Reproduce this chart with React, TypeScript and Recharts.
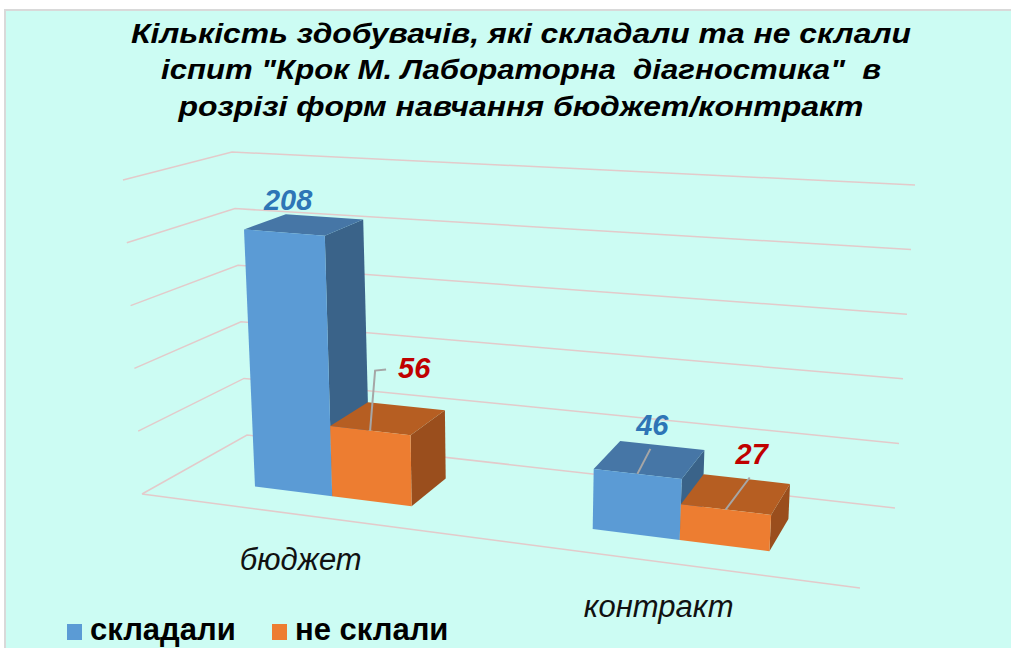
import React from "react"
import { Bar, BarChart, CartesianGrid, XAxis, YAxis } from "recharts"

const CATEGORIES = ["бюджет", "контракт"]
const PASSED = [208, 46]
const FAILED = [56, 27]
const SERIES = ["складали", "не склали"]
const Y_TICKS = [0, 50, 100, 150, 200, 250]
const TITLE_LINES = [
  "Кількість здобувачів, які складали та не склали",
  "іспит \"Крок М. Лабораторна  діагностика\"  в",
  "розрізі форм навчання бюджет/контракт",
]

const data = CATEGORIES.map((name, i) => ({
  name,
  passed: PASSED[i],
  failed: FAILED[i],
}))

// layout of the (flat) recharts plot, used to map back into the 3d box
const CHART_W = 1011
const CHART_H = 648
const XAXIS_H = 40
const PLOT_LEFT = 0
const PLOT_W = CHART_W
const PLOT_H = CHART_H - XAXIS_H
const PLOT_BOTTOM = PLOT_H

type Pt = [number, number]

// screen corners of the 3d box, indexed [x][value][depth]
const BOX: Pt[][][] = [
  [
    [[142, 494], [247, 435]],
    [[123, 180], [232, 152]],
  ],
  [
    [[860, 588], [895, 508]],
    [[882, 238], [915, 185]],
  ],
]
const PERSP = 0.886
const Z_FRONT = 0.3
const Z_BACK = 0.72

const FONT = "'Liberation Sans', Arial, sans-serif"
const BG = "#ccfcf3"
const GRID = "#e3caca"
const LEADER = "#a6a6a6"

const COLORS = [
  { front: "#5b9bd5", top: "#4676a6", side: "#3a6389", label: "#2e75b6" },
  { front: "#ed7d31", top: "#b65e22", side: "#9a4e1d", label: "#c00000" },
]

// label centre relative to the front top edge of each bar, plus leader points
const LABEL_LAYOUT = [
  [
    { dx: 4, dy: -33, lead: [] as Pt[] },
    { dx: 15, dy: -49, lead: [[-2, 24]] as Pt[] },
  ],
  [
    { dx: 44, dy: -63, lead: [[-39, 3], [-28, 2]] as Pt[] },
    { dx: 26, dy: -56, lead: [[-2, 24]] as Pt[] },
  ],
]

function project(u: number, t: number, z: number): Pt {
  const w = (u * PERSP) / (1 + (PERSP - 1) * u)
  let x = 0
  let y = 0
  for (let i = 0; i < 2; i++)
    for (let j = 0; j < 2; j++)
      for (let k = 0; k < 2; k++) {
        const k1 = (i ? w : 1 - w) * (j ? t : 1 - t) * (k ? z : 1 - z)
        x += k1 * BOX[i][j][k][0]
        y += k1 * BOX[i][j][k][1]
      }
  return [x, y]
}

function poly(pts: Pt[], close = true) {
  const d = pts.map((p, i) => `${i ? "L" : "M"}${p[0].toFixed(1)},${p[1].toFixed(1)}`).join(" ")
  return close ? d + " Z" : d
}

function GridLine(props: any) {
  const t = (PLOT_BOTTOM - props.y1) / PLOT_H
  let d = poly([project(0, t, 0), project(0, t, 1), project(1, t, 1)], false)
  if (t < 0.001) d += " " + poly([project(0, 0, 0), project(1, 0, 0)], false)
  return <path key={`grid-${props.index}`} d={d} fill="none" stroke={GRID} strokeWidth={1.5} />
}

function CategoryTick(props: any) {
  const u = (props.x - PLOT_LEFT) / PLOT_W
  const p = project(u, 0, 0)
  return (
    <text
      x={p[0] - 5}
      y={p[1] + 55}
      textAnchor="middle"
      fontFamily={FONT}
      fontStyle="italic"
      fontSize={31}
      fill="#111"
    >
      {props.payload.value}
    </text>
  )
}

function Box3D(props: any) {
  const { x, y, width, height, index, series } = props
  if (x == null || width == null) return null
  const u0 = (x - PLOT_LEFT) / PLOT_W
  const u1 = (x + width - PLOT_LEFT) / PLOT_W
  const t = (PLOT_BOTTOM - y) / PLOT_H
  const b = (PLOT_BOTTOM - (y + height)) / PLOT_H
  const c = COLORS[series]
  const side = [project(u1, b, Z_FRONT), project(u1, b, Z_BACK), project(u1, t, Z_BACK), project(u1, t, Z_FRONT)]
  const top = [project(u0, t, Z_FRONT), project(u1, t, Z_FRONT), project(u1, t, Z_BACK), project(u0, t, Z_BACK)]
  const front = [project(u0, b, Z_FRONT), project(u1, b, Z_FRONT), project(u1, t, Z_FRONT), project(u0, t, Z_FRONT)]
  const anchor = project((u0 + u1) / 2, t, Z_FRONT)
  const lay = LABEL_LAYOUT[series][index]
  const cx = anchor[0] + lay.dx
  const cy = anchor[1] + lay.dy
  const value = Array.isArray(props.value) ? props.value[1] : props.value
  return (
    <g>
      <path d={poly(side)} fill={c.side} />
      <path d={poly(top)} fill={c.top} />
      <path d={poly(front)} fill={c.front} />
      {lay.lead.length > 0 && (
        <path
          d={poly([anchor, ...lay.lead.map((p) => [cx + p[0], cy + p[1]] as Pt)], false)}
          fill="none"
          stroke={LEADER}
          strokeWidth={2}
        />
      )}
      <text
        x={cx}
        y={cy + 10.5}
        textAnchor="middle"
        fontFamily={FONT}
        fontWeight="bold"
        fontStyle="italic"
        fontSize={29}
        fill={c.label}
      >
        {value}
      </text>
    </g>
  )
}

function Overlay() {
  const titleX = 521
  const titleY = [43, 79, 116]
  const titleW = [780, 720, 685]
  const legendX = [67, 272]
  return (
    <svg
      width={CHART_W}
      height={CHART_H}
      style={{ position: "absolute", left: 0, top: 0, pointerEvents: "none" }}
    >
      {TITLE_LINES.map((line, i) => (
        <text
          key={i}
          x={titleX}
          y={titleY[i]}
          textAnchor="middle"
          textLength={titleW[i]}
          lengthAdjust="spacingAndGlyphs"
          fontFamily={FONT}
          fontWeight="bold"
          fontStyle="italic"
          fontSize={28}
          fill="#000"
          style={{ whiteSpace: "pre" }}
        >
          {line}
        </text>
      ))}
      {SERIES.map((name, i) => (
        <g key={name}>
          <rect x={legendX[i]} y={624} width={15} height={16} fill={COLORS[i].front} />
          <text
            x={legendX[i] + 23}
            y={640}
            fontFamily={FONT}
            fontWeight="bold"
            fontSize={31}
            fill="#000"
          >
            {name}
          </text>
        </g>
      ))}
    </svg>
  )
}

export default function App() {
  return (
    <div
      style={{
        position: "absolute",
        left: 0,
        top: 0,
        width: CHART_W,
        height: CHART_H,
        background: "#fff",
        overflow: "hidden",
      }}
    >
      <div
        style={{
          position: "absolute",
          left: 4,
          top: 9,
          width: CHART_W,
          height: CHART_H,
          background: BG,
          borderTop: "2px solid #d9d9d9",
          borderLeft: "2px solid #d9d9d9",
        }}
      />
      <div style={{ position: "absolute", left: 0, top: 0 }}>
        <BarChart
          width={CHART_W}
          height={CHART_H}
          data={data}
          margin={{ top: 0, right: 0, bottom: 0, left: 0 }}
          barCategoryGap="26%"
          barGap={0}
        >
          <CartesianGrid vertical={false} horizontal={GridLine} />
          <XAxis
            dataKey="name"
            height={XAXIS_H}
            axisLine={false}
            tickLine={false}
            interval={0}
            tick={CategoryTick}
          />
          <YAxis hide domain={[0, 250]} ticks={Y_TICKS} />
          <Bar
            dataKey="passed"
            name={SERIES[0]}
            isAnimationActive={false}
            shape={(p: any) => <Box3D {...p} series={0} />}
          />
          <Bar
            dataKey="failed"
            name={SERIES[1]}
            isAnimationActive={false}
            shape={(p: any) => <Box3D {...p} series={1} />}
          />
        </BarChart>
      </div>
      <Overlay />
    </div>
  )
}
